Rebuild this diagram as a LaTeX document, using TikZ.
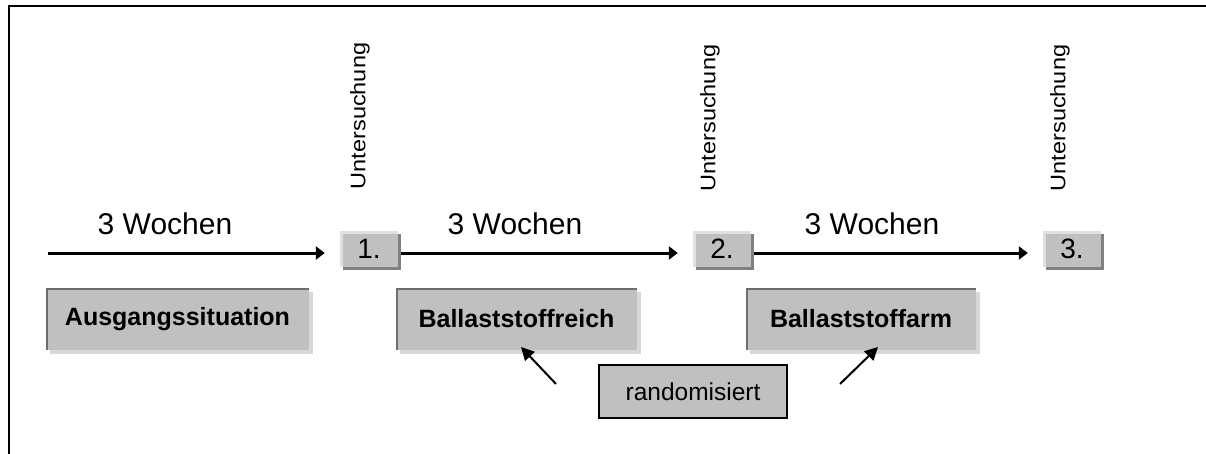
\documentclass[tikz,border=0pt]{standalone}
\usepackage{fontspec}
\usepackage{graphicx}
\setmainfont{Liberation Sans}
\usetikzlibrary{arrows.meta}

\definecolor{boxgray}{HTML}{C0C0C0}
\definecolor{edgedark}{HTML}{808080}
\definecolor{edgelight}{HTML}{E0E0E0}
\definecolor{shadelight}{HTML}{D8D8D8}
\definecolor{rimdark}{HTML}{6E6E6E}

\begin{document}
\begin{tikzpicture}[x=1pt,y=-1pt,
  % small numbered checkpoint boxes: light upper-left rim, dark drop shadow
  numbox/.style={fill=boxgray, minimum width=58pt, minimum height=36pt, inner sep=0pt,
    font=\fontsize{28}{28}\selectfont,
    preaction={fill=edgedark, transform canvas={shift={(3pt,-3pt)}}},
    path picture={
      \fill[edgelight] (path picture bounding box.north west) rectangle ([yshift=-3pt]path picture bounding box.north east);
      \fill[edgelight] (path picture bounding box.north west) rectangle ([xshift=3pt]path picture bounding box.south west);}},
  % phase boxes: dark upper-left rim, light drop shadow
  phasebox/.style={fill=boxgray, minimum height=62pt, inner sep=0pt,
    font=\fontsize{25}{25}\selectfont\bfseries,
    preaction={fill=shadelight, transform canvas={shift={(4pt,-4pt)}}},
    path picture={
      \fill[rimdark] (path picture bounding box.north west) rectangle ([yshift=-2pt]path picture bounding box.north east);
      \fill[rimdark] (path picture bounding box.north west) rectangle ([xshift=2pt]path picture bounding box.south west);}},
  randbox/.style={fill=boxgray, draw=black, line width=1.5pt, minimum width=188pt, minimum height=53pt,
    inner sep=0pt, font=\fontsize{24.5}{24.5}\selectfont},
  weeks/.style={anchor=base, font=\fontsize{30}{30}\selectfont},
  exam/.style={rotate=90, inner sep=0pt, font=\fontsize{21}{21}\selectfont},
  timeline/.style={line width=3pt, -{Triangle[length=9pt,width=13pt]}},
  pointer/.style={line width=2pt, -{Triangle[length=13pt,width=13pt]}}
]
\useasboundingbox (0,0) rectangle (1206,454);

% frame
\draw[line width=2pt] (1206,6) -- (9,6) -- (9,454);

% checkpoints
\node[numbox] (n1) at (369,249) {1.};
\node[numbox] (n2) at (722,249) {2.};
\node[numbox] (n3) at (1072,249) {3.};

% examination labels
\node[exam] (u1) at (360,116) {\scalebox{1.12}[1]{Untersuchung}};
\node[exam] (u2) at (710,118) {\scalebox{1.12}[1]{Untersuchung}};
\node[exam] (u3) at (1060,118) {\scalebox{1.12}[1]{Untersuchung}};

% time line
\coordinate (start) at (48,253);
\draw[timeline] (start) -- ([shift={(-15,4)}]n1.west);
\draw[timeline] ([shift={(3,4)}]n1.east) -- ([shift={(-15,4)}]n2.west);
\draw[timeline] ([shift={(3,4)}]n2.east) -- ([shift={(-15,4)}]n3.west);

\node[weeks] (w1) at (165,235) {3 Wochen};
\node[weeks] (w2) at (515,235) {3 Wochen};
\node[weeks] (w3) at (872,235) {3 Wochen};

% phases
\node[phasebox, minimum width=263pt] (p0) at (177.5,319) {Ausgangssituation};
\node[phasebox, minimum width=241pt] (p1) at (516.5,319) {Ballaststoffreich};
\node[phasebox, minimum width=230pt] (p2) at (861,319) {Ballaststoffarm};

% randomisation
\node[randbox] (r) at (693,391.5) {randomisiert};
\coordinate (ra) at (556,384);
\coordinate (rb) at (840,384);
\coordinate (ta) at (521,347);
\coordinate (tb) at (878,347);
\draw[pointer] (ra) -- (ta);
\draw[pointer] (rb) -- (tb);
\end{tikzpicture}
\end{document}
